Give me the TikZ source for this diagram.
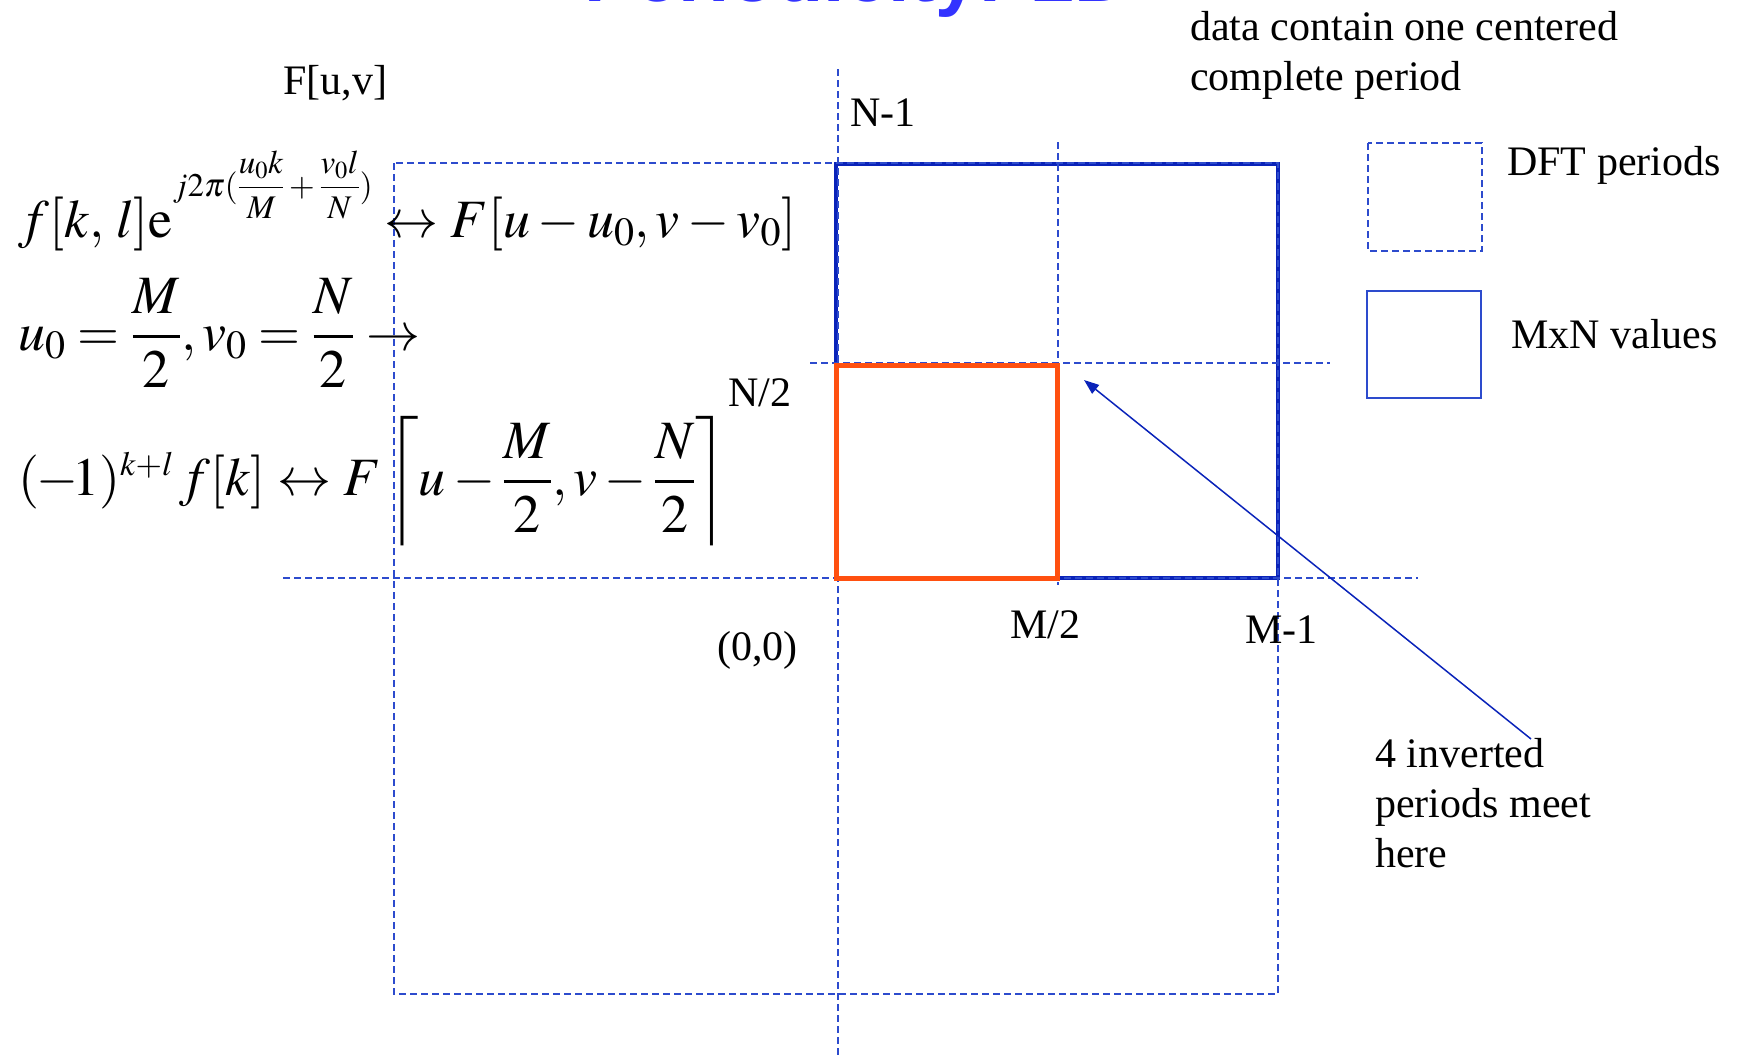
\documentclass[tikz,border=0pt]{standalone}
\usepackage{amsmath}
\usepackage{mathptmx}
\usepackage{fontspec}
\setmainfont{Liberation Serif}
\newfontfamily\titlefont{Liberation Sans}
\usetikzlibrary{arrows.meta}
\definecolor{dashblue}{RGB}{45,75,205}
\definecolor{boxblue}{RGB}{10,35,185}
\definecolor{orangebox}{RGB}{255,80,16}
\definecolor{titleblue}{RGB}{51,51,255}
\tikzset{
  dline/.style={draw=dashblue, line width=1.5pt, dash pattern=on 7pt off 4pt},
  lbl/.style={anchor=base west, inner sep=0pt, font=\fontsize{42}{50}\selectfont},
  eqn/.style={anchor=base west, inner sep=0pt, font=\fontsize{54}{64}\selectfont},
  bigbox/.style={draw=boxblue, line width=4.5pt},
  halfbox/.style={draw=orangebox, line width=5pt},
  legsolid/.style={draw=dashblue, line width=1.5pt},
  pointer/.style={draw=boxblue, line width=1.5pt, -{Triangle[length=15pt,width=11pt]}}
}
\begin{document}
\begin{tikzpicture}[x=1pt,y=-1pt]
\useasboundingbox (0,0) rectangle (1740,1055);
% title (cut off at top)
\node[anchor=base west, inner sep=0pt, font=\titlefont\bfseries\fontsize{77}{90}\selectfont, text=titleblue] (title) at (584,1.5) {Periodicity: 2D};
% MxN box
\draw[bigbox] (836,164) rectangle (1278,578);
% dashed period lines
\draw[dline] (394,163) rectangle (1278,994);
\draw[dline] (838,69) -- (838,1055);
\draw[dline] (283,578) -- (1418,578);
\draw[dline] (810,363) -- (1330,363);
\draw[dline] (1058,142) -- (1058,585);
% centred period
\draw[halfbox] (836,365.5) rectangle (1057,578.5);
% legend
\draw[dline] (1368,143) rectangle (1482,251);
\draw[legsolid] (1367,291) rectangle (1481,398);
\node[lbl] (legdft) at (1507,175) {DFT periods};
\node[lbl] (legmn) at (1511,348) {MxN values};
% top text
\node[lbl] (top1) at (1190,40) {data contain one centered};
\node[lbl] (top2) at (1190,90) {complete period};
% axis labels
\node[lbl] (fuv) at (283,94) {F[u,v]};
\node[lbl] (nm1) at (850,126) {N-1};
\node[lbl] (n2) at (728,406) {N/2};
\node[lbl] (orig) at (717,660) {(0,0)};
\node[lbl] (m2) at (1010,638) {M/2};
\node[lbl] (mm1) at (1245,643) {M-1};
% note
\node[lbl] (note1) at (1375,767) {4 inverted};
\node[lbl] (note2) at (1375,817) {periods meet};
\node[lbl] (note3) at (1375,867) {here};
\coordinate (arrS) at (1531,739);
\coordinate (arrE) at (1084,380);
\draw[pointer] (arrS) -- (arrE);
% formulas
\node[eqn] (eq1) at (18,237) {$f[k,\,l]\mathrm{e}\raisebox{41pt}{\fontsize{33}{40}\selectfont$j2\pi(\dfrac{u_0k}{M}+\dfrac{v_0l}{N})$}\leftrightarrow F[u-u_0,v-v_0]$};
\node[eqn] (eq2) at (18,350) {$u_0=\dfrac{M}{2},v_0=\dfrac{N}{2}\rightarrow$};
\node[eqn] (eq3) at (18,495) {$(\mkern-1mu-\mkern-2mu1)^{\mbox{\fontsize{34}{40}\selectfont$k{+}l$}}\,f[k]\leftrightarrow F\left\lceil u-\dfrac{M}{2},v-\dfrac{N}{2}\right\rceil$};
\end{tikzpicture}
\end{document}
